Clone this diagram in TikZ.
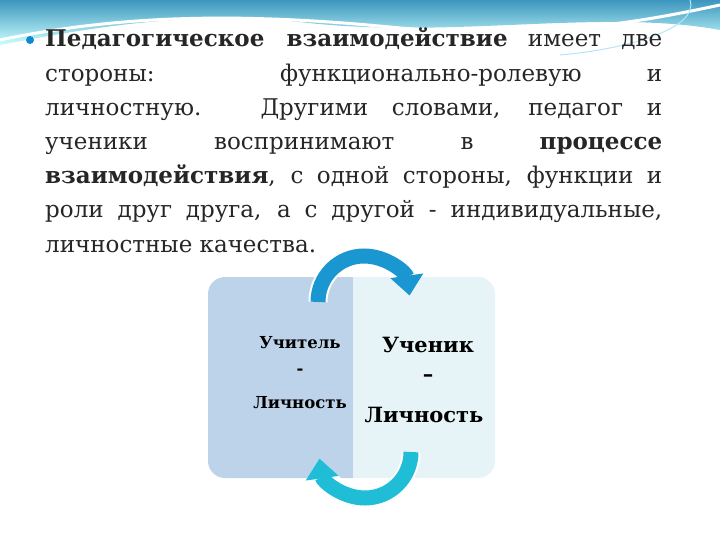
\documentclass[tikz,border=0pt]{standalone}
\usepackage{fontspec}
\setmainfont{DejaVu Serif}
\usetikzlibrary{arrows.meta}
\begin{document}
\begin{tikzpicture}[x=1pt,y=-1pt,
 ln/.style={anchor=base west,inner sep=0pt,font=\fontsize{23}{26}\selectfont,text=black!85},
 lt/.style={font=\fontsize{16.5}{20}\selectfont\bfseries,inner sep=0pt},
 rt/.style={font=\fontsize{21}{26}\selectfont\bfseries,inner sep=0pt},
 arr/.style={line width=15,-{Triangle[width=32,length=20]}}]
\useasboundingbox (0,0) rectangle (720,540);
\fill[white] (0,0) rectangle (720,540);
\shade[top color={rgb,255:red,60;green,150;blue,190},bottom color=cyan!20] (0,0) -- (720,0) -- (720,30) .. controls (600,8) and (450,40) .. (300,22) .. controls (180,10) and (80,30) .. (0,45) -- cycle;
\draw[white,line width=3] (0,40) .. controls (120,15) and (240,12) .. (400,28) .. controls (550,40) and (650,20) .. (720,5);
\draw[white!70!cyan,line width=1] (690,0) .. controls (700,30) and (620,50) .. (560,55);
% text
\fill[cyan!70!blue] (30,40) circle (4);
\node[ln] (l1) at (45,47) {\makebox[617pt][s]{\textbf{Педагогическое взаимодействие} имеет две}};
\node[ln] (l2) at (45,82) {\makebox[617pt][s]{стороны: функционально-ролевую и}};
\node[ln] (l3) at (45,116) {\makebox[617pt][s]{личностную. Другими словами, педагог и}};
\node[ln] (l4) at (45,150) {\makebox[617pt][s]{ученики воспринимают в \textbf{процессе}}};
\node[ln] (l5) at (45,184) {\makebox[617pt][s]{\textbf{взаимодействия}, с одной стороны, функции и}};
\node[ln] (l6) at (45,218) {\makebox[617pt][s]{роли друг друга, а с другой - индивидуальные,}};
\node[ln] (l7) at (45,252) {личностные качества.};
% boxes
\fill[fill={rgb,255:red,189;green,211;blue,234}] (353,277) -- (225,277) arc[start angle=270,end angle=180,radius=17] -- (208,461) arc[start angle=180,end angle=90,radius=17] -- (353,478) -- cycle;
\fill[fill={rgb,255:red,230;green,244;blue,248}] (353,277) -- (478,277) arc[start angle=270,end angle=360,radius=17] -- (495,461) arc[start angle=0,end angle=90,radius=17] -- (353,478) -- cycle;
\node[lt] (t1) at (300,343) {Учитель};
\node[lt] (t2) at (300,372) {-};
\node[lt] (t3) at (300,403) {Личность};
\node[rt] (r1) at (428,345) {Ученик};
\node[rt] (r2) at (428,378) {–};
\node[rt] (r3) at (424,415) {Личность};
% arrows
\draw[arr,white,line width=19,-{Triangle[width=38,length=24]}] (318,302) arc[start angle=180,end angle=352,radius=46];
\draw[arr,color={rgb,255:red,26;green,150;blue,208}] (318,302) arc[start angle=180,end angle=352,radius=46];
\draw[arr,white,line width=19,-{Triangle[width=38,length=24]}] (411,452) arc[start angle=0,end angle=172,radius=46];
\draw[arr,color={rgb,255:red,32;green,190;blue,214}] (411,452) arc[start angle=0,end angle=172,radius=46];
\end{tikzpicture}
\end{document}
